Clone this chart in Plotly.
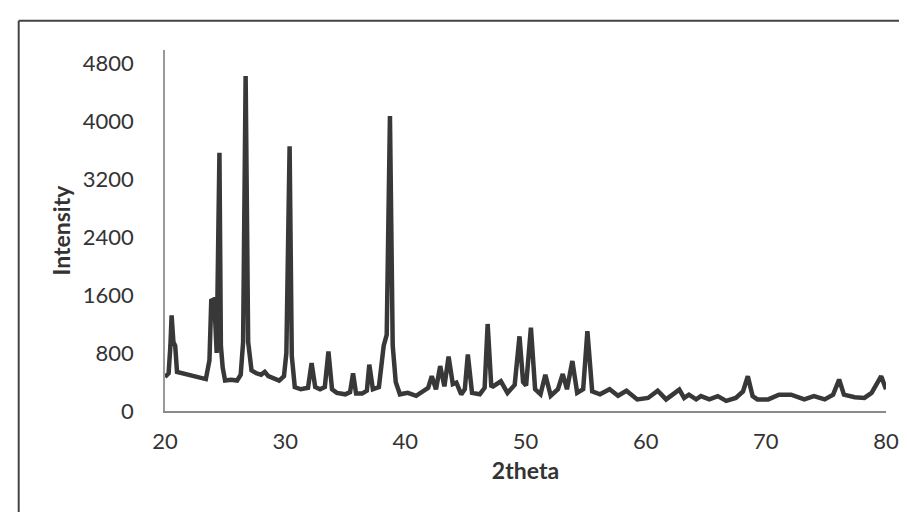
import plotly.graph_objects as go

two_theta = [20.0, 20.3, 20.45, 20.55, 20.7, 20.85, 21.0, 21.5, 22.0, 22.5, 23.0, 23.4,
             23.7, 23.85, 24.1, 24.3, 24.53, 24.65, 24.8, 25.0, 25.5, 26.0, 26.3, 26.5,
             26.71, 26.92, 27.2, 27.6, 28.0, 28.3, 28.6, 29.0, 29.5, 29.9, 30.1, 30.37,
             30.55, 30.8, 31.3, 31.9, 32.2, 32.5, 32.9, 33.3, 33.6, 33.9, 34.3, 35.0,
             35.4, 35.65, 35.9, 36.4, 36.8, 37.0, 37.3, 37.8, 38.2, 38.45, 38.72, 38.95,
             39.2, 39.55, 40.2, 40.9, 41.6, 41.9, 42.2, 42.55, 42.9, 43.25, 43.6, 43.95,
             44.25, 44.65, 44.95, 45.2, 45.55, 46.2, 46.6, 46.85, 47.15, 47.3, 47.95, 48.5,
             49.1, 49.5, 49.8, 50.05, 50.45, 50.8, 51.25, 51.65, 52.1, 52.7, 53.1, 53.45,
             53.9, 54.3, 54.8, 55.15, 55.55, 56.2, 57.0, 57.7, 58.4, 59.3, 60.2, 61.0,
             61.7, 62.8, 63.2, 63.6, 64.2, 64.6, 65.3, 66.0, 66.7, 67.5, 68.1, 68.5,
             68.9, 69.3, 70.2, 71.1, 72.1, 73.2, 74.0, 74.9, 75.6, 76.1, 76.5, 77.4,
             78.2, 78.8, 79.6, 80.0]
intensity = [470, 520, 900, 1320, 950, 900, 540, 520, 500, 480, 460, 440,
             700, 1520, 1540, 800, 3560, 900, 600, 420, 430, 420, 500, 950,
             4620, 950, 560, 520, 500, 540, 480, 460, 420, 480, 800, 3650,
             760, 330, 300, 320, 660, 330, 300, 330, 820, 300, 250, 230,
             260, 520, 240, 240, 280, 640, 300, 330, 900, 1050, 4070, 900,
             400, 230, 250, 210, 280, 320, 480, 300, 620, 340, 750, 370,
             390, 230, 300, 780, 250, 230, 320, 1200, 350, 340, 410, 250,
             360, 1030, 400, 350, 1150, 300, 230, 500, 210, 300, 510, 300,
             690, 250, 300, 1100, 270, 230, 300, 210, 280, 160, 180, 280,
             160, 295, 180, 225, 160, 205, 160, 205, 140, 180, 270, 480,
             205, 160, 160, 225, 225, 160, 205, 160, 225, 435, 225, 190,
             180, 250, 480, 300]

x_ticks = [20, 30, 40, 50, 60, 70, 80]
y_ticks = [0, 800, 1600, 2400, 3200, 4000, 4800]

FONT = "Lato"
Y_TOP = 4979  # axis line in the scan runs a little above the 4800 tick

fig = go.Figure()
fig.add_trace(go.Scatter(
    x=two_theta, y=intensity, mode="lines",
    line=dict(color="#383838", width=4.5), showlegend=False,
))

fig.update_layout(
    width=907, height=512,
    margin=dict(l=157, r=29, t=42, b=109),
    paper_bgcolor="white", plot_bgcolor="white",
    font=dict(family=FONT, color="#333333", size=20),
)
fig.update_xaxes(
    range=[20, 80], tickvals=x_ticks, ticktext=[str(v) for v in x_ticks],
    showgrid=False, zeroline=False, showline=True, linecolor="#8a8a8a", linewidth=1.5,
    ticks="outside", ticklen=10, tickcolor="rgba(0,0,0,0)",
    tickfont=dict(family=FONT, size=22, color="#333333"),
    title=dict(text="<b>2theta</b>", font=dict(family=FONT, size=23, color="#333333"), standoff=10),
    automargin=False,
)
fig.update_yaxes(
    range=[0, Y_TOP], tickvals=y_ticks, ticktext=[str(v) for v in y_ticks],
    showgrid=False, zeroline=False, showline=True, linecolor="#9a9a9a", linewidth=1.5,
    ticks="outside", ticklen=25, tickcolor="rgba(0,0,0,0)",
    tickfont=dict(family=FONT, size=22, color="#333333"),
    title=dict(text="<b>Intensity</b>", font=dict(family=FONT, size=23, color="#333333"), standoff=6),
    automargin=False,
)

# outer chart frame (left and top edges visible in the scan)
py = lambda p: (403 - p) / 361.0
px = lambda p: (p - 157) / 721.0
fig.add_shape(type="line", xref="paper", yref="paper",
              x0=px(10.7), x1=px(10.7), y0=py(515), y1=py(12.7),
              line=dict(color="#444444", width=2))
fig.add_shape(type="line", xref="paper", yref="paper",
              x0=px(10.7), x1=px(910), y0=py(12.7), y1=py(12.7),
              line=dict(color="#444444", width=2))

fig.write_html("out.html")
